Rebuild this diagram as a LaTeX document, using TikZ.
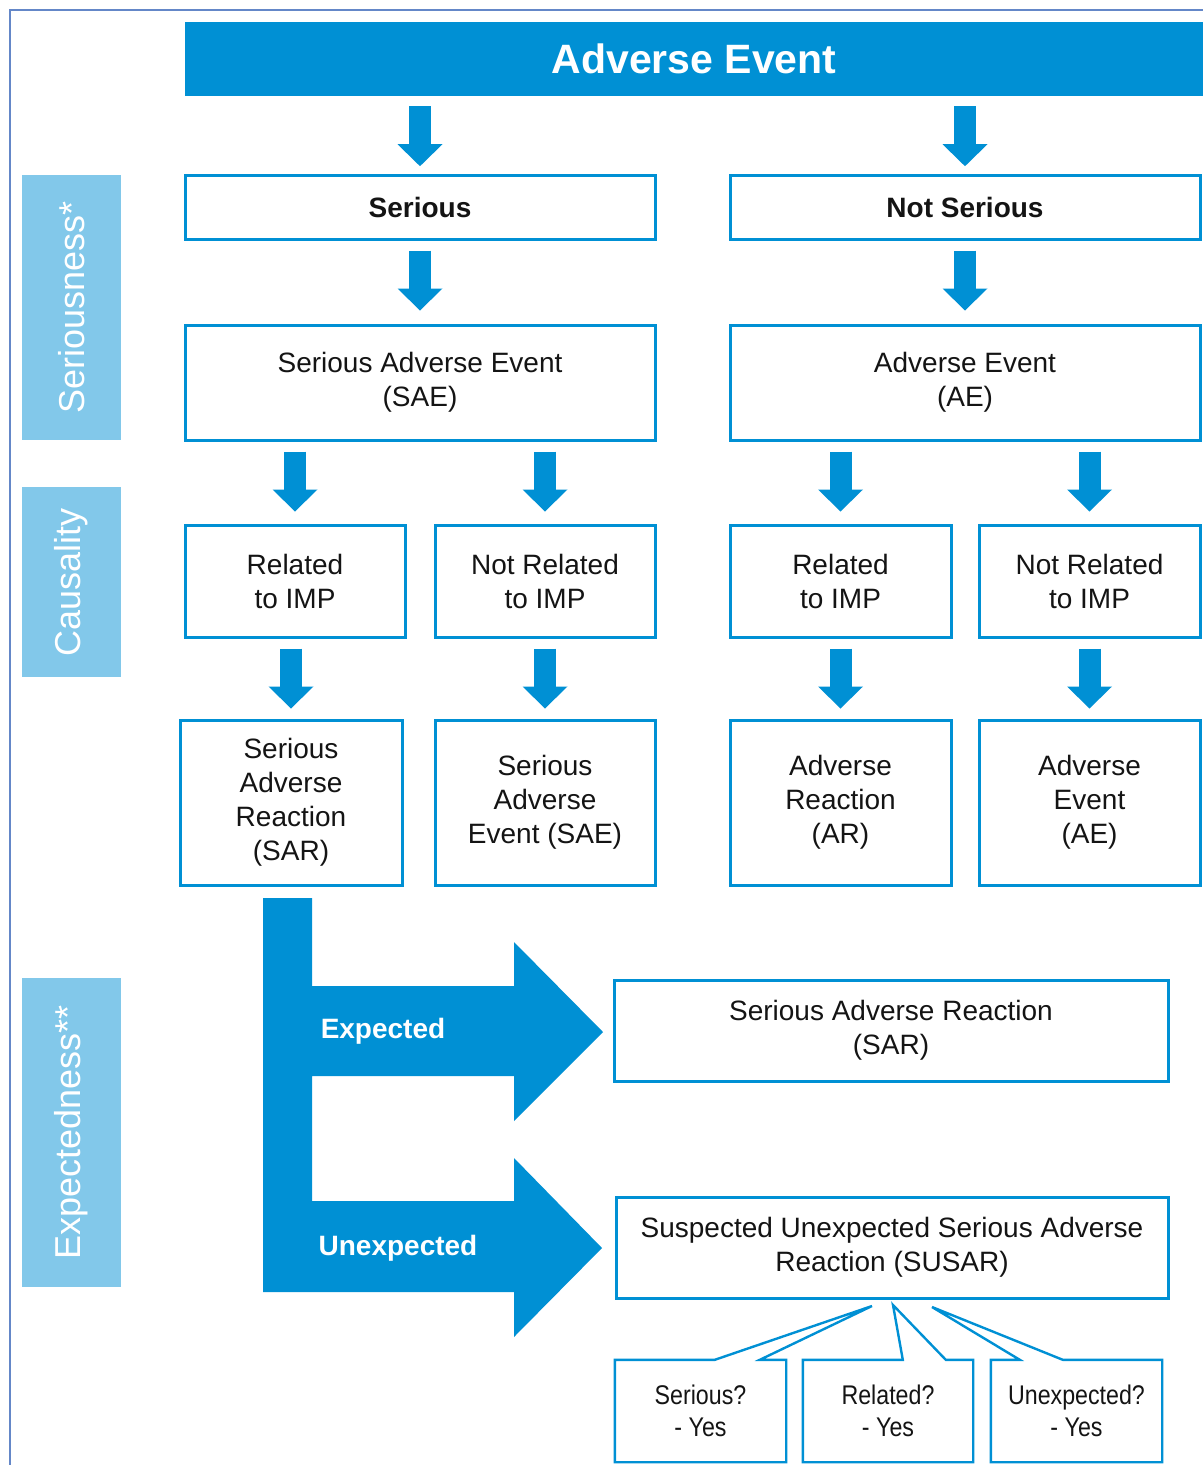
\documentclass[tikz,border=0pt]{standalone}
\usepackage{fontspec}
\setmainfont{Liberation Sans}
\newfontfamily\narrowfont[FakeStretch=0.86]{Liberation Sans}
\usetikzlibrary{arrows.meta,calc}
\definecolor{ablue}{RGB}{0,144,212}
\definecolor{lblue}{RGB}{130,200,234}
\definecolor{framec}{RGB}{100,135,200}
\definecolor{txt}{RGB}{20,20,20}
\begin{document}
\begin{tikzpicture}[x=1pt,y=-1pt,
  box/.style={draw=ablue, line width=3pt, fill=white, align=center, inner sep=0pt, text=txt, font=\fontsize{28}{34}\selectfont},
  sidebox/.style={fill=lblue, text=white, rotate=90, inner sep=0pt, font=\fontsize{36}{42}\selectfont, minimum height=99pt},
  barrow/.style={ablue, line width=22pt, -{Triangle[width=45pt,length=22pt,line width=0pt]}},
  callbox/.style={align=center, inner sep=0pt, text=txt, minimum width=171pt, minimum height=102pt, font=\narrowfont\fontsize{27}{32}\selectfont},
  callline/.style={draw=ablue, line width=2.4pt, line join=miter},
  bigtext/.style={text=white, inner sep=0pt, font=\bfseries\fontsize{28}{34}\selectfont}
]
\useasboundingbox (0,0) rectangle (1203,1465);
% outer frame
\draw[framec, line width=1.5pt] (10,1465) -- (10,10) -- (1203,10);

% title bar
\node[fill=ablue, minimum width=1018pt, minimum height=74pt, inner sep=0pt, text=white,
      font=\bfseries\fontsize{41}{46}\selectfont] (top) at (694,59) {Adverse Event};

% side labels
\node[sidebox, minimum width=265pt] (lser) at (71.5,307.5) {Seriousness*};
\node[sidebox, minimum width=190pt] (lcau) at (71.5,582) {Causality};
\node[sidebox, minimum width=309pt] (lexp) at (71.5,1132.5) {Expectedness**};

% boxes
\node[box, font=\bfseries\fontsize{28}{34}\selectfont, minimum width=470pt, minimum height=64pt] (ser) at (420,207) {Serious};
\node[box, font=\bfseries\fontsize{28}{34}\selectfont, minimum width=470pt, minimum height=64pt] (nser) at (965,207) {Not Serious};
\node[box, minimum width=470pt, minimum height=115pt] (sae) at (420,382.5) {Serious Adverse Event\\(SAE)};
\node[box, minimum width=470pt, minimum height=115pt] (ae) at (965,382.5) {Adverse Event\\(AE)};

\node[box, minimum width=220pt, minimum height=112pt] (rel1) at (295,581) {Related\\to IMP};
\node[box, minimum width=220pt, minimum height=112pt] (nrel1) at (545,581) {Not Related\\to IMP};
\node[box, minimum width=221pt, minimum height=112pt] (rel2) at (840.5,581) {Related\\to IMP};
\node[box, minimum width=221pt, minimum height=112pt] (nrel2) at (1089.5,581) {Not Related\\to IMP};

\node[box, minimum width=222pt, minimum height=165pt] (sar) at (291,802.5) {Serious\\Adverse\\Reaction\\(SAR)};
\node[box, minimum width=220pt, minimum height=165pt] (sae2) at (545,802.5) {Serious\\Adverse\\Event (SAE)};
\node[box, minimum width=221pt, minimum height=165pt] (ar) at (840.5,802.5) {Adverse\\Reaction\\(AR)};
\node[box, minimum width=221pt, minimum height=165pt] (ae2) at (1089.5,802.5) {Adverse\\Event\\(AE)};

\node[box, minimum width=554pt, minimum height=101pt] (sarr) at (891,1030.5) {Serious Adverse Reaction\\(SAR)};
\node[box, minimum width=552pt, minimum height=101pt] (susar) at (892,1247.5) {Suspected Unexpected Serious Adverse\\Reaction (SUSAR)};

% down arrows
\foreach \a/\b in {top/ser, top/nser, ser/sae, nser/ae, sae/rel1, sae/nrel1, ae/rel2, ae/nrel2,
                   rel1/sar, nrel1/sae2, rel2/ar, nrel2/ae2}
  \draw[barrow] ([yshift=-10pt]\a.south -| \b.north) -- ++(0,60);

% big split arrow
\fill[ablue] (263,898) -- (312,898) -- (312,986) -- (514,986) -- (514,942) -- (603,1032)
  -- (514,1121) -- (514,1076) -- (312,1076) -- (312,1201) -- (514,1201) -- (514,1158)
  -- (602,1248) -- (514,1337) -- (514,1292) -- (263,1292) -- cycle;
\node[bigtext] (exp) at (383,1031) {Expected};
\node[bigtext] (unexp) at (398,1248) {Unexpected};

% callouts
\coordinate (t1) at (872,1306);
\coordinate (t2) at (893,1305);
\coordinate (t3) at (932,1307);
\node[callbox] (c1) at (700.5,1411) {Serious?\\- Yes};
\node[callbox, minimum width=170pt] (c2) at (888,1411) {Related?\\- Yes};
\node[callbox] (c3) at (1076.5,1411) {Unexpected?\\- Yes};
\draw[callline] (c1.north west) -- ([xshift=100pt]c1.north west) -- (t1) -- ([xshift=145pt]c1.north west)
  -- (c1.north east) -- (c1.south east) -- (c1.south west) -- cycle;
\draw[callline] (c2.north west) -- ([xshift=100pt]c2.north west) -- (t2) -- ([xshift=143pt]c2.north west)
  -- (c2.north east) -- (c2.south east) -- (c2.south west) -- cycle;
\draw[callline] (c3.north west) -- ([xshift=29pt]c3.north west) -- (t3) -- ([xshift=72pt]c3.north west)
  -- (c3.north east) -- (c3.south east) -- (c3.south west) -- cycle;
\end{tikzpicture}
\end{document}
